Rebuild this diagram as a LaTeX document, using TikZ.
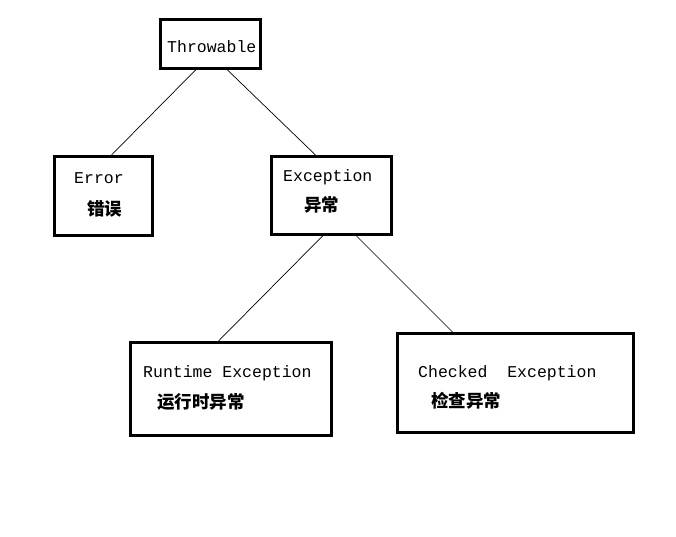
\documentclass[tikz,border=0pt]{standalone}
\usepackage{fontspec}
\setmainfont{Liberation Mono}
\newfontfamily\cjk{Noto Sans CJK SC}
\begin{document}
\begin{tikzpicture}[x=1pt,y=-1pt,
  box/.style={draw, line width=3pt, inner sep=0pt, rectangle},
  lbl/.style={anchor=west, inner sep=0pt, font=\fontsize{16.5}{18}\selectfont},
  zh/.style={anchor=west, inner sep=0pt, font=\cjk\bfseries\fontsize{17.5}{19}\selectfont},
  conn/.style={line width=0.7pt}]
\useasboundingbox (0,0) rectangle (676,536);
\fill[white] (0,0) rectangle (676,536);
\node[box, minimum width=100pt, minimum height=49pt] (thr) at (210.5,44) {};
\node[box, minimum width=98pt, minimum height=79pt] (err) at (103.5,196) {};
\node[box, minimum width=120pt, minimum height=78pt] (exc) at (331.5,195.5) {};
\node[box, minimum width=201pt, minimum height=93pt] (run) at (231,389) {};
\node[box, minimum width=236pt, minimum height=99pt] (chk) at (515.5,383) {};
\node[lbl] (thrT) at (167,47) {Throwable};
\node[lbl] (errT) at (74,178) {Error};
\node[zh] (errZ) at (87,209) {错误};
\node[lbl] (excT) at (283,177) {Exception};
\node[zh] (excZ) at (304,205) {异常};
\node[lbl] (runT) at (143,373) {Runtime Exception};
\node[zh] (runZ) at (157,402) {运行时异常};
\node[lbl] (chkT) at (418,373) {Checked\ \ Exception};
\node[zh] (chkZ) at (431,401) {检查异常};
\draw[conn] ([xshift=36.5pt]thr.south west) -- ([xshift=58.5pt]err.north west);
\draw[conn] ([xshift=68.5pt]thr.south west) -- ([xshift=45.5pt]exc.north west);
\draw[conn] ([xshift=52.5pt]exc.south west) -- ([xshift=89.5pt]run.north west);
\draw[conn] ([xshift=86.5pt]exc.south west) -- ([xshift=56.5pt]chk.north west);
\end{tikzpicture}
\end{document}
